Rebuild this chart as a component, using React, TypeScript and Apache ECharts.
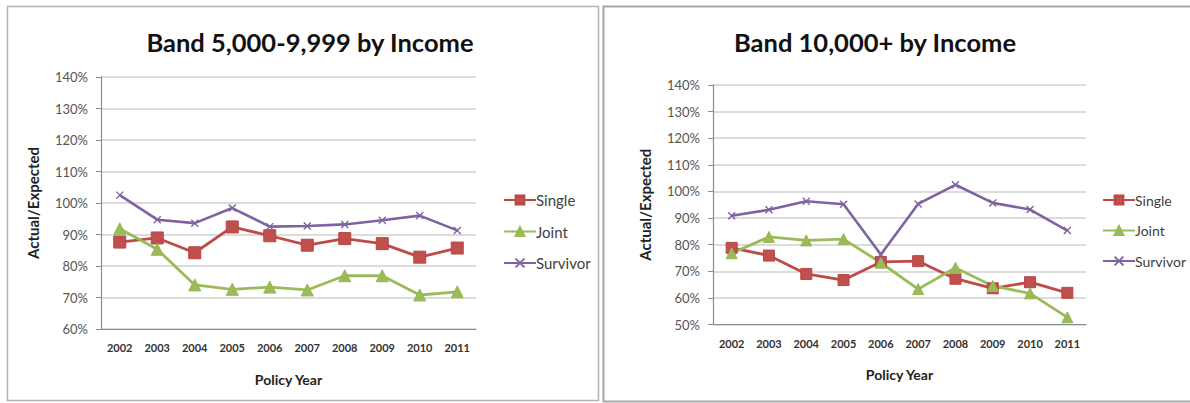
import React, { useEffect, useRef } from "react";
import * as echarts from "echarts";

// Policy years shared by both panels
const years = ["2002", "2003", "2004", "2005", "2006", "2007", "2008", "2009", "2010", "2011"];

// Band 5,000-9,999 (actual/expected, %)
const singleLow = [87.6, 88.9, 84.2, 92.4, 89.6, 86.6, 88.7, 87.1, 82.8, 85.7];
const jointLow = [91.8, 85.3, 74.0, 72.6, 73.3, 72.4, 76.9, 76.9, 70.8, 71.8];
const survivorLow = [102.5, 94.7, 93.6, 98.4, 92.5, 92.7, 93.2, 94.5, 96.0, 91.3];

// Band 10,000+ (actual/expected, %)
const singleHigh = [78.8, 75.9, 69.0, 66.7, 73.5, 73.8, 67.2, 63.6, 65.9, 61.9];
const jointHigh = [76.8, 82.9, 81.6, 82.1, 73.2, 63.3, 71.3, 64.5, 61.7, 52.7];
const survivorHigh = [90.9, 93.1, 96.3, 95.2, 76.3, 95.3, 102.5, 95.7, 93.2, 85.3];

const seriesNames = ["Single", "Joint", "Survivor"];
const titles = ["Band 5,000-9,999 by Income", "Band 10,000+ by Income"];
const yAxisTitle = "Actual/Expected";
const xAxisTitle = "Policy Year";

const RED = "#C0504D";
const GREEN = "#9BBB59";
const PURPLE = "#7F63A1";
const FONT = "Lato, 'Open Sans', sans-serif";

const crossSymbol = "path://M0,0L10,10M10,0L0,10";

function makeSeries(axisIndex: number, single: number[], joint: number[], survivor: number[], mk: number) {
  return [
    {
      name: seriesNames[0],
      type: "line",
      xAxisIndex: axisIndex,
      yAxisIndex: axisIndex,
      data: single,
      symbol: "rect",
      symbolSize: mk,
      lineStyle: { color: "#BE4B48", width: 2.8 },
      itemStyle: { color: RED, borderColor: "#B84643", borderWidth: 1 },
    },
    {
      name: seriesNames[1],
      type: "line",
      xAxisIndex: axisIndex,
      yAxisIndex: axisIndex,
      data: joint,
      symbol: "triangle",
      symbolSize: mk,
      lineStyle: { color: GREEN, width: 2.8 },
      itemStyle: { color: GREEN, borderColor: "#98B954", borderWidth: 1 },
    },
    {
      name: seriesNames[2],
      type: "line",
      xAxisIndex: axisIndex,
      yAxisIndex: axisIndex,
      data: survivor,
      symbol: crossSymbol,
      symbolSize: 7,
      lineStyle: { color: PURPLE, width: 2.6 },
      itemStyle: { color: PURPLE, borderColor: PURPLE, borderWidth: 1.4 },
    },
  ];
}

function axisPair(grid: number, yMin: number, nameGapY: number, nameGapX: number, labelMargin: number) {
  const x = {
    type: "category",
    gridIndex: grid,
    data: years,
    boundaryGap: true,
    axisLine: { lineStyle: { color: "#8C8C8C", width: 1.2 } },
    axisTick: { show: false },
    axisLabel: { color: "#333", fontFamily: FONT, fontSize: 11, fontWeight: "bold", margin: labelMargin },
    name: xAxisTitle,
    nameLocation: "middle",
    nameGap: nameGapX,
    nameTextStyle: { color: "#222", fontFamily: FONT, fontSize: 14, fontWeight: "bold" },
  };
  const y = {
    type: "value",
    gridIndex: grid,
    min: yMin,
    max: 140,
    interval: 10,
    axisLine: { show: true, lineStyle: { color: "#8C8C8C", width: 1.2 } },
    axisTick: { show: true, length: 5, lineStyle: { color: "#8C8C8C" } },
    axisLabel: { color: "#555", fontFamily: FONT, fontSize: 13, formatter: "{value}%", margin: 13 },
    splitLine: { lineStyle: { color: "#D0D0D0", width: 1.6 } },
    name: yAxisTitle,
    nameLocation: "middle",
    nameGap: nameGapY,
    nameRotate: 90,
    nameTextStyle: { color: "#222", fontFamily: FONT, fontSize: 15, fontWeight: "bold" },
  };
  return { x, y };
}

export default function App() {
  const ref = useRef<HTMLDivElement>(null);

  useEffect(() => {
    if (!ref.current) return;
    const chart = echarts.init(ref.current, null, { renderer: "svg" });
    const a = axisPair(0, 60, 61, 43, 12.5);
    const b = axisPair(1, 50, 61, 42.5, 13);

    const legendBase = {
      orient: "vertical",
      itemWidth: 32,
      itemHeight: 11,
      data: seriesNames,
    };

    chart.setOption({
      animation: false,
      backgroundColor: "#FFFFFF",
      grid: [
        { left: 101, top: 77, width: 375, height: 252 },
        { left: 713, top: 85, width: 373, height: 239.5 },
      ],
      xAxis: [a.x, b.x],
      yAxis: [a.y, b.y],
      legend: [
        {
          ...legendBase,
          left: 498,
          top: 187.5,
          itemGap: 16.5,
          textStyle: { color: "#404040", fontFamily: FONT, fontSize: 15, padding: [0, 0, 0, -5] },
        },
        {
          ...legendBase,
          left: 1097,
          top: 188,
          itemGap: 16.5,
          textStyle: { color: "#404040", fontFamily: FONT, fontSize: 14, padding: [0, 0, 0, -5] },
        },
      ],
      graphic: [
        {
          type: "rect",
          shape: { x: 7.5, y: 6.5, width: 591, height: 394 },
          style: { fill: "none", stroke: "#B4B4B4", lineWidth: 1.5 },
          silent: true,
        },
        {
          type: "rect",
          shape: { x: 603.5, y: 6.5, width: 600, height: 395 },
          style: { fill: "none", stroke: "#A8A8A8", lineWidth: 2 },
          silent: true,
        },
        {
          type: "text",
          x: 310,
          y: 42,
          style: {
            text: titles[0],
            align: "center",
            verticalAlign: "middle",
            fill: "#111",
            font: `bold 25.5px ${FONT}`,
          },
        },
        {
          type: "text",
          x: 875,
          y: 42,
          style: {
            text: titles[1],
            align: "center",
            verticalAlign: "middle",
            fill: "#111",
            font: `bold 25.5px ${FONT}`,
          },
        },
      ],
      series: [
        ...makeSeries(0, singleLow, jointLow, survivorLow, 12),
        ...makeSeries(1, singleHigh, jointHigh, survivorHigh, 11),
      ],
    });
    return () => chart.dispose();
  }, []);

  return (
    <div
      ref={ref}
      style={{ position: "fixed", left: 0, top: 0, width: 1190, height: 403 }}
    />
  );
}
